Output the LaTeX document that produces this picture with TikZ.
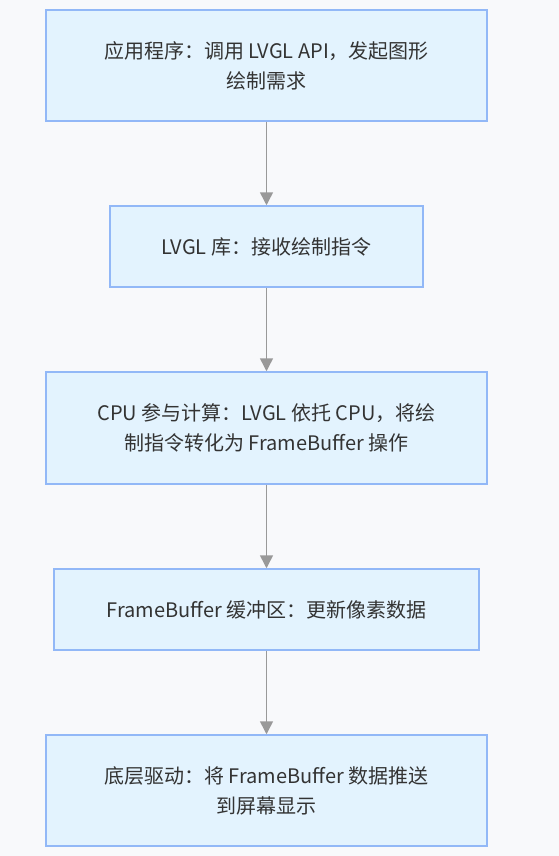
\documentclass[tikz,border=0pt]{standalone}
\usepackage{fontspec}
\setmainfont{Noto Sans CJK SC}
\usetikzlibrary{arrows.meta}
\definecolor{bgcol}{HTML}{F8F9FB}
\definecolor{boxfill}{HTML}{E3F3FE}
\definecolor{boxline}{HTML}{92B8F7}
\definecolor{arrowcol}{HTML}{999999}
\definecolor{textcol}{HTML}{333333}

\tikzset{
  stepbox/.style={draw=boxline, fill=boxfill, line width=1.5pt, align=center,
    text=textcol, font=\fontsize{20}{30}\selectfont, inner sep=0pt},
  flow/.style={draw=arrowcol, line width=1.5pt,
    -{Triangle[length=13pt,width=13pt,fill=arrowcol]}}
}

\begin{document}
\begin{tikzpicture}[x=1pt, y=-1pt]
  \fill[bgcol] (0,0) rectangle (559,856);
  \useasboundingbox (0,0) rectangle (559,856);

  \node (app) at (266.5, 65.5) [stepbox, minimum width=441pt, minimum height=111pt]
    {应用程序：调用 LVGL API，发起图形\\绘制需求};
  \node (lib) at (266.5, 246.5) [stepbox, minimum width=313pt, minimum height=81pt]
    {LVGL 库：接收绘制指令};
  \node (cpu) at (266.5, 428.0) [stepbox, minimum width=441pt, minimum height=112pt]
    {CPU 参与计算：LVGL 依托 CPU，将绘\\制指令转化为 FrameBuffer 操作};
  \node (fb) at (266.5, 609.5) [stepbox, minimum width=425pt, minimum height=81pt]
    {FrameBuffer 缓冲区：更新像素数据};
  \node (drv) at (266.5, 790.5) [stepbox, minimum width=441pt, minimum height=111pt]
    {底层驱动：将 FrameBuffer 数据推送\\到屏幕显示};

  \draw [flow] (app) -- (lib);
  \draw [flow] (lib) -- (cpu);
  \draw [flow] (cpu) -- (fb);
  \draw [flow] (fb) -- (drv);
\end{tikzpicture}
\end{document}
